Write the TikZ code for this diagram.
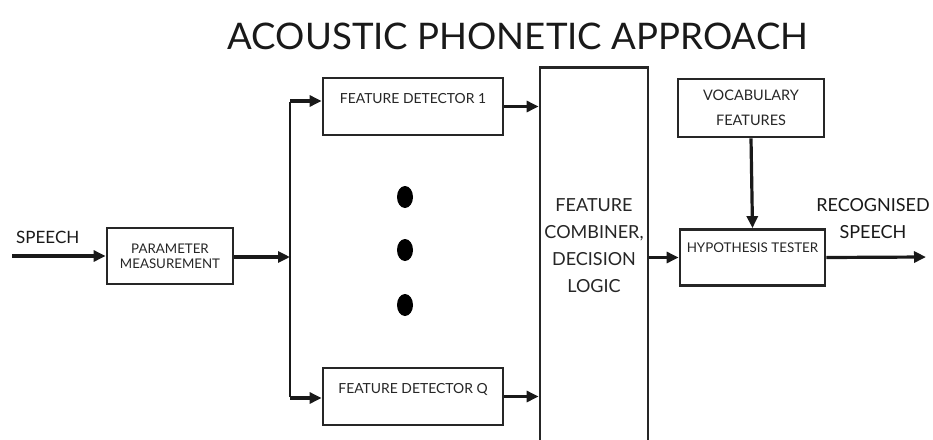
\documentclass[tikz,border=0pt]{standalone}
\usepackage{fontspec}
\setmainfont{Lato}
\usetikzlibrary{arrows.meta}
\usetikzlibrary{shapes.geometric}
\tikzset{
  blk/.style={draw=black!85, line width=2.8pt, rectangle, inner sep=0pt},
  smalltxt/.style={font=\fontsize{13.9}{15}\selectfont, text=black!85, align=center, inner sep=0pt},
  bigtxt/.style={font=\fontsize{18}{27}\selectfont, text=black!85, align=center, inner sep=0pt},
  conn/.style={draw=black!90, line width=3.2pt, -{Triangle[length=12pt,width=11pt]}},
  plain/.style={draw=black!90, line width=2.8pt},
  dot/.style={fill=black, ellipse, minimum width=16pt, minimum height=22pt, inner sep=0pt}
}
\begin{document}
\begin{tikzpicture}[x=1pt,y=-1pt]
\clip (0,0) rectangle (933,439);
\fill[white] (0,0) rectangle (933,439);
% title
\node[font=\fontsize{36.6}{40}\selectfont, text=black!90, inner sep=0pt] (title) at (518,36) {ACOUSTIC PHONETIC APPROACH};
% boxes
\node[blk, minimum width=126pt, minimum height=56pt] (pm) at (170,256) {};
\node[smalltxt, font=\fontsize{13.3}{15}\selectfont] (pmt) at (170,256) {PARAMETER\\MEASUREMENT};
\node[blk, minimum width=180pt, minimum height=57pt] (fd1) at (413,106.5) {};
\node[smalltxt] (fd1t) at (413,99) {FEATURE DETECTOR 1};
\node[blk, minimum width=180pt, minimum height=57pt] (fdq) at (413,396.5) {};
\node[smalltxt] (fdqt) at (413,389) {FEATURE DETECTOR Q};
\node[blk, anchor=north, minimum width=108pt, minimum height=420pt] (comb) at (594,66) {};
\node[bigtxt] (combt) at (594,246) {FEATURE\\COMBINER,\\DECISION\\LOGIC};
\node[blk, minimum width=146pt, minimum height=58pt] (voc) at (751,108) {};
\node[smalltxt, font=\fontsize{14.5}{25}\selectfont] (voct) at (751,108) {VOCABULARY\\FEATURES};
\node[blk, minimum width=145pt, minimum height=56pt] (hyp) at (752.5,257.5) {};
\node[smalltxt, font=\fontsize{13.4}{15}\selectfont] (hypt) at (752.5,248) {HYPOTHESIS TESTER};
% labels
\node[font=\fontsize{17}{20}\selectfont, text=black!90, anchor=west, inner sep=0pt] (sp) at (16,237) {SPEECH};
\node[font=\fontsize{18}{27}\selectfont, text=black!90, align=center, inner sep=0pt] (rs) at (873,219) {RECOGNISED\\SPEECH};
% dots
\node[dot] (d1) at (405,197) {};
\node[dot] (d2) at (405,250) {};
\node[dot] (d3) at (405,305) {};
% coordinates
\coordinate (in) at (12,256);
\coordinate (bus) at (290,257);
\coordinate (bt) at (290,101);
\coordinate (bb) at (290,398);
\coordinate (out) at (926,257);
% connectors
\draw[conn] (in) -- (in -| pm.west);
\draw[conn] (pm.east |- bus) -- (bus);
\draw[plain] ([yshift=-1.4pt]bt) -- ([yshift=1.4pt]bb);
\draw[conn] (bt) -- (bt -| fd1.west);
\draw[conn] (bb) -- (bb -| fdq.west);
\draw[conn] (fd1.east) -- (fd1.east -| comb.west);
\draw[conn] (fdq.east) -- (fdq.east -| comb.west);
\draw[conn] (hyp.west -| comb.east) -- (hyp.west);
\draw[conn] (voc.south) -- (hyp.north);
\draw[conn] (hyp.east) -- (out);
\end{tikzpicture}
\end{document}
